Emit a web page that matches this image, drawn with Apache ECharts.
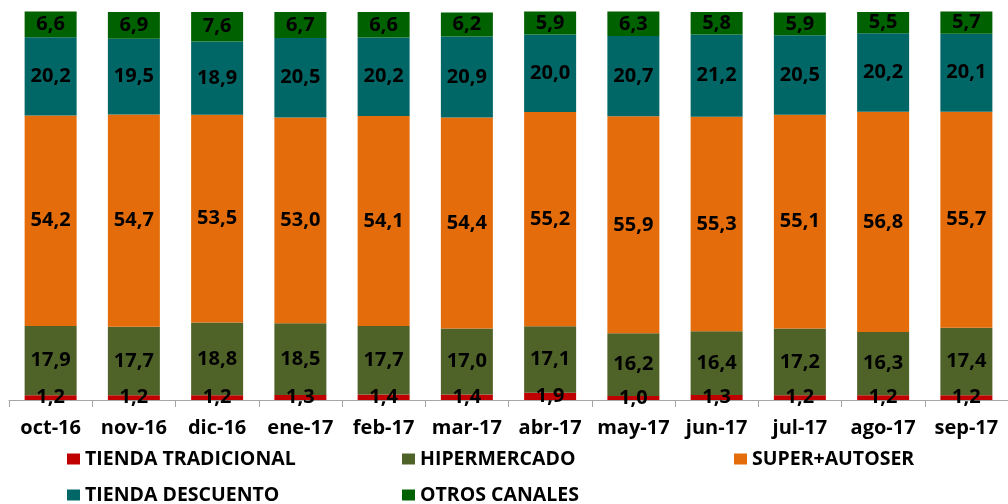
<!DOCTYPE html>
<html>
<head>
<meta charset="utf-8">
<script src="https://cdn.jsdelivr.net/npm/echarts@6/dist/echarts.min.js"></script>
<style>
  html, body { margin: 0; padding: 0; background: #fff; }
  #chart { width: 1008px; height: 504px; }
</style>
</head>
<body>
<div id="chart"></div>
<script>
// Monthly share of sales by channel (%)
const months = ['oct-16', 'nov-16', 'dic-16', 'ene-17', 'feb-17', 'mar-17', 'abr-17', 'may-17', 'jun-17', 'jul-17', 'ago-17', 'sep-17'];
const tiendaTradicional = [1.2, 1.2, 1.2, 1.3, 1.4, 1.4, 1.9, 1.0, 1.3, 1.2, 1.2, 1.2];
const hipermercado = [17.9, 17.7, 18.8, 18.5, 17.7, 17.0, 17.1, 16.2, 16.4, 17.2, 16.3, 17.4];
const superAutoser = [54.2, 54.7, 53.5, 53.0, 54.1, 54.4, 55.2, 55.9, 55.3, 55.1, 56.8, 55.7];
const tiendaDescuento = [20.2, 19.5, 18.9, 20.5, 20.2, 20.9, 20.0, 20.7, 21.2, 20.5, 20.2, 20.1];
const otrosCanales = [6.6, 6.9, 7.6, 6.7, 6.6, 6.2, 5.9, 6.3, 5.8, 5.9, 5.5, 5.7];

const FONT = '"Open Sans", "DejaVu Sans", sans-serif';

const seriesDefs = [
  { name: 'TIENDA TRADICIONAL', data: tiendaTradicional, color: '#C00000' },
  { name: 'HIPERMERCADO', data: hipermercado, color: '#4F6228' },
  { name: 'SUPER+AUTOSER', data: superAutoser, color: '#E46C0A' },
  { name: 'TIENDA DESCUENTO', data: tiendaDescuento, color: '#006666' },
  { name: 'OTROS CANALES', data: otrosCanales, color: '#006100' }
];

// Legend entries laid out in two rows, three columns
const legendSlots = [
  { left: 67, top: 449 },
  { left: 402, top: 449 },
  { left: 734, top: 449 },
  { left: 67, top: 485 },
  { left: 402, top: 485 }
];

const chart = echarts.init(document.getElementById('chart'), null, { renderer: 'canvas' });

chart.setOption({
  animation: false,
  backgroundColor: '#ffffff',
  grid: { left: 9, width: 1008, top: 12, bottom: 104, containLabel: false },
  legend: seriesDefs.map((s, i) => ({
    data: [s.name],
    left: legendSlots[i].left,
    top: legendSlots[i].top,
    icon: 'rect',
    itemWidth: 13,
    itemHeight: 11,
    itemGap: 6,
    padding: 0,
    selectedMode: false,
    textStyle: { fontFamily: FONT, fontWeight: 'bold', fontSize: 19.5, color: '#000' }
  })),
  xAxis: {
    type: 'category',
    data: months,
    axisLine: { show: true, lineStyle: { color: '#A6A6A6', width: 1 } },
    axisTick: { show: true, alignWithLabel: false, length: 7, lineStyle: { color: '#A6A6A6' } },
    axisLabel: { fontFamily: FONT, fontWeight: 'bold', fontSize: 20, color: '#000', margin: 18, interval: 0 }
  },
  yAxis: {
    type: 'value',
    min: 0,
    max: 100,
    show: false,
    splitLine: { show: false }
  },
  series: seriesDefs.map(s => ({
    name: s.name,
    type: 'bar',
    stack: 'total',
    barWidth: 52,
    clip: false,
    data: s.data,
    itemStyle: { color: s.color },
    label: {
      show: true,
      position: 'inside',
      fontFamily: FONT,
      fontWeight: 'bold',
      fontSize: 20,
      color: '#000',
      formatter: p => p.value.toFixed(1).replace('.', ',')
    }
  }))
});
</script>
</body>
</html>
